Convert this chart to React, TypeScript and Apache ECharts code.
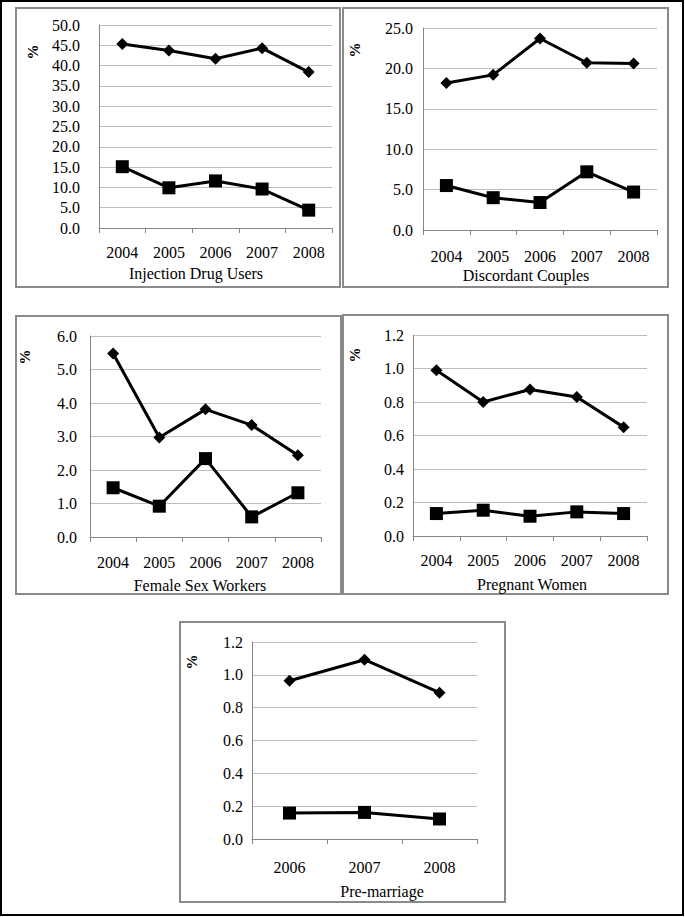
import React, { useEffect, useRef } from "react";
import * as echarts from "echarts";

const years5 = ["2004", "2005", "2006", "2007", "2008"];
const years3 = ["2006", "2007", "2008"];

const iduUpper = [45.3, 43.7, 41.7, 44.3, 38.4];
const iduLower = [15.1, 9.9, 11.6, 9.6, 4.4];
const dcUpper = [18.2, 19.2, 23.7, 20.7, 20.6];
const dcLower = [5.5, 4.0, 3.4, 7.2, 4.7];
const fswUpper = [5.48, 2.97, 3.81, 3.34, 2.44];
const fswLower = [1.47, 0.92, 2.34, 0.6, 1.32];
const pwUpper = [0.99, 0.8, 0.875, 0.83, 0.65];
const pwLower = [0.134, 0.154, 0.118, 0.144, 0.134];
const pmUpper = [0.964, 1.092, 0.891];
const pmLower = [0.158, 0.162, 0.122];

const titles = ["Injection Drug Users", "Discordant Couples", "Female Sex Workers", "Pregnant Women", "Pre-marriage"];
const yMax = [50, 25, 6, 1.2, 1.2];
const yStep = [5, 5, 1, 0.2, 0.2];

const FONT = "Liberation Serif, Times New Roman, serif";

export default function App() {
  const ref = useRef<HTMLDivElement>(null);
  useEffect(() => {
    document.body.style.margin = "0";
    if (!ref.current) return;
    const chart = echarts.init(ref.current, null, { renderer: "svg" });

    const panels = [
      { cats: years5, up: iduUpper, lo: iduLower, grid: { left: 99, top: 25, width: 233, height: 203 }, ym: 19, xm: 16, box: [16, 8, 324, 279], pct: [33, 52], title: [196, 273] },
      { cats: years5, up: dcUpper, lo: dcLower, grid: { left: 423, top: 28, width: 234, height: 202 }, ym: 10, xm: 18, box: [343, 8, 325, 279], pct: [355, 50], title: [526, 275] },
      { cats: years5, up: fswUpper, lo: fswLower, grid: { left: 90, top: 336, width: 231, height: 201 }, ym: 13, xm: 17, box: [16, 316, 325, 278], pct: [25, 357], title: [200, 585] },
      { cats: years5, up: pwUpper, lo: pwLower, grid: { left: 413, top: 335, width: 234, height: 201 }, ym: 9, xm: 16, box: [343, 315, 325, 279], pct: [355, 355], title: [532, 584] },
      { cats: years3, up: pmUpper, lo: pmLower, grid: { left: 252, top: 642, width: 225, height: 197 }, ym: 9, xm: 20, box: [180, 622, 325, 280], pct: [192, 662], title: [382, 891] },
    ];

    const grids: any[] = [];
    const xAxes: any[] = [];
    const yAxes: any[] = [];
    const series: any[] = [];
    const graphics: any[] = [
      { type: "rect", shape: { x: 1, y: 1, width: 682, height: 914 }, style: { fill: "none", stroke: "#000", lineWidth: 2 }, z: 0 },
    ];

    panels.forEach((p, i) => {
      grids.push({ ...p.grid });
      xAxes.push({
        type: "category",
        gridIndex: i,
        data: p.cats,
        boundaryGap: true,
        axisLine: { show: true, lineStyle: { color: "#868686", width: 1 } },
        axisTick: { show: true, length: 5, inside: false, lineStyle: { color: "#868686" } },
        axisLabel: { color: "#000", fontFamily: FONT, fontSize: 16, margin: p.xm },
        splitLine: { show: false },
      });
      yAxes.push({
        type: "value",
        gridIndex: i,
        min: 0,
        max: yMax[i],
        interval: yStep[i],
        axisLine: { show: true, lineStyle: { color: "#868686", width: 1 } },
        axisTick: { show: false },
        axisLabel: {
          color: "#000",
          fontFamily: FONT,
          fontSize: 16,
          margin: p.ym,
          formatter: (v: number) => v.toFixed(1),
        },
        splitLine: { show: true, lineStyle: { color: "#bdbdbd", width: 1 } },
      });
      series.push({
        type: "line",
        xAxisIndex: i,
        yAxisIndex: i,
        data: p.up,
        symbol: "diamond",
        symbolSize: 12,
        lineStyle: { color: "#000", width: 3 },
        itemStyle: { color: "#000" },
        z: 3,
      });
      series.push({
        type: "line",
        xAxisIndex: i,
        yAxisIndex: i,
        data: p.lo,
        symbol: "rect",
        symbolSize: 13,
        lineStyle: { color: "#000", width: 3 },
        itemStyle: { color: "#000" },
        z: 3,
      });
      graphics.push({
        type: "rect",
        shape: { x: p.box[0], y: p.box[1], width: p.box[2], height: p.box[3] },
        style: { fill: "none", stroke: "#8a8a8a", lineWidth: 2 },
        z: 0,
      });
      graphics.push({
        type: "text",
        x: p.pct[0],
        y: p.pct[1],
        rotation: Math.PI / 2,
        style: { text: "%", fontFamily: FONT, fontSize: 15, fontWeight: "bold", fill: "#000", align: "center", verticalAlign: "middle" },
      });
      graphics.push({
        type: "text",
        x: p.title[0],
        y: p.title[1],
        style: { text: titles[i], fontFamily: FONT, fontSize: 16, fill: "#000", align: "center", verticalAlign: "middle" },
      });
    });

    chart.setOption({
      animation: false,
      backgroundColor: "#fff",
      textStyle: { fontFamily: FONT },
      grid: grids,
      xAxis: xAxes,
      yAxis: yAxes,
      series,
      graphic: graphics,
    });
    return () => chart.dispose();
  }, []);
  return <div ref={ref} style={{ width: 685, height: 917 }} />;
}
